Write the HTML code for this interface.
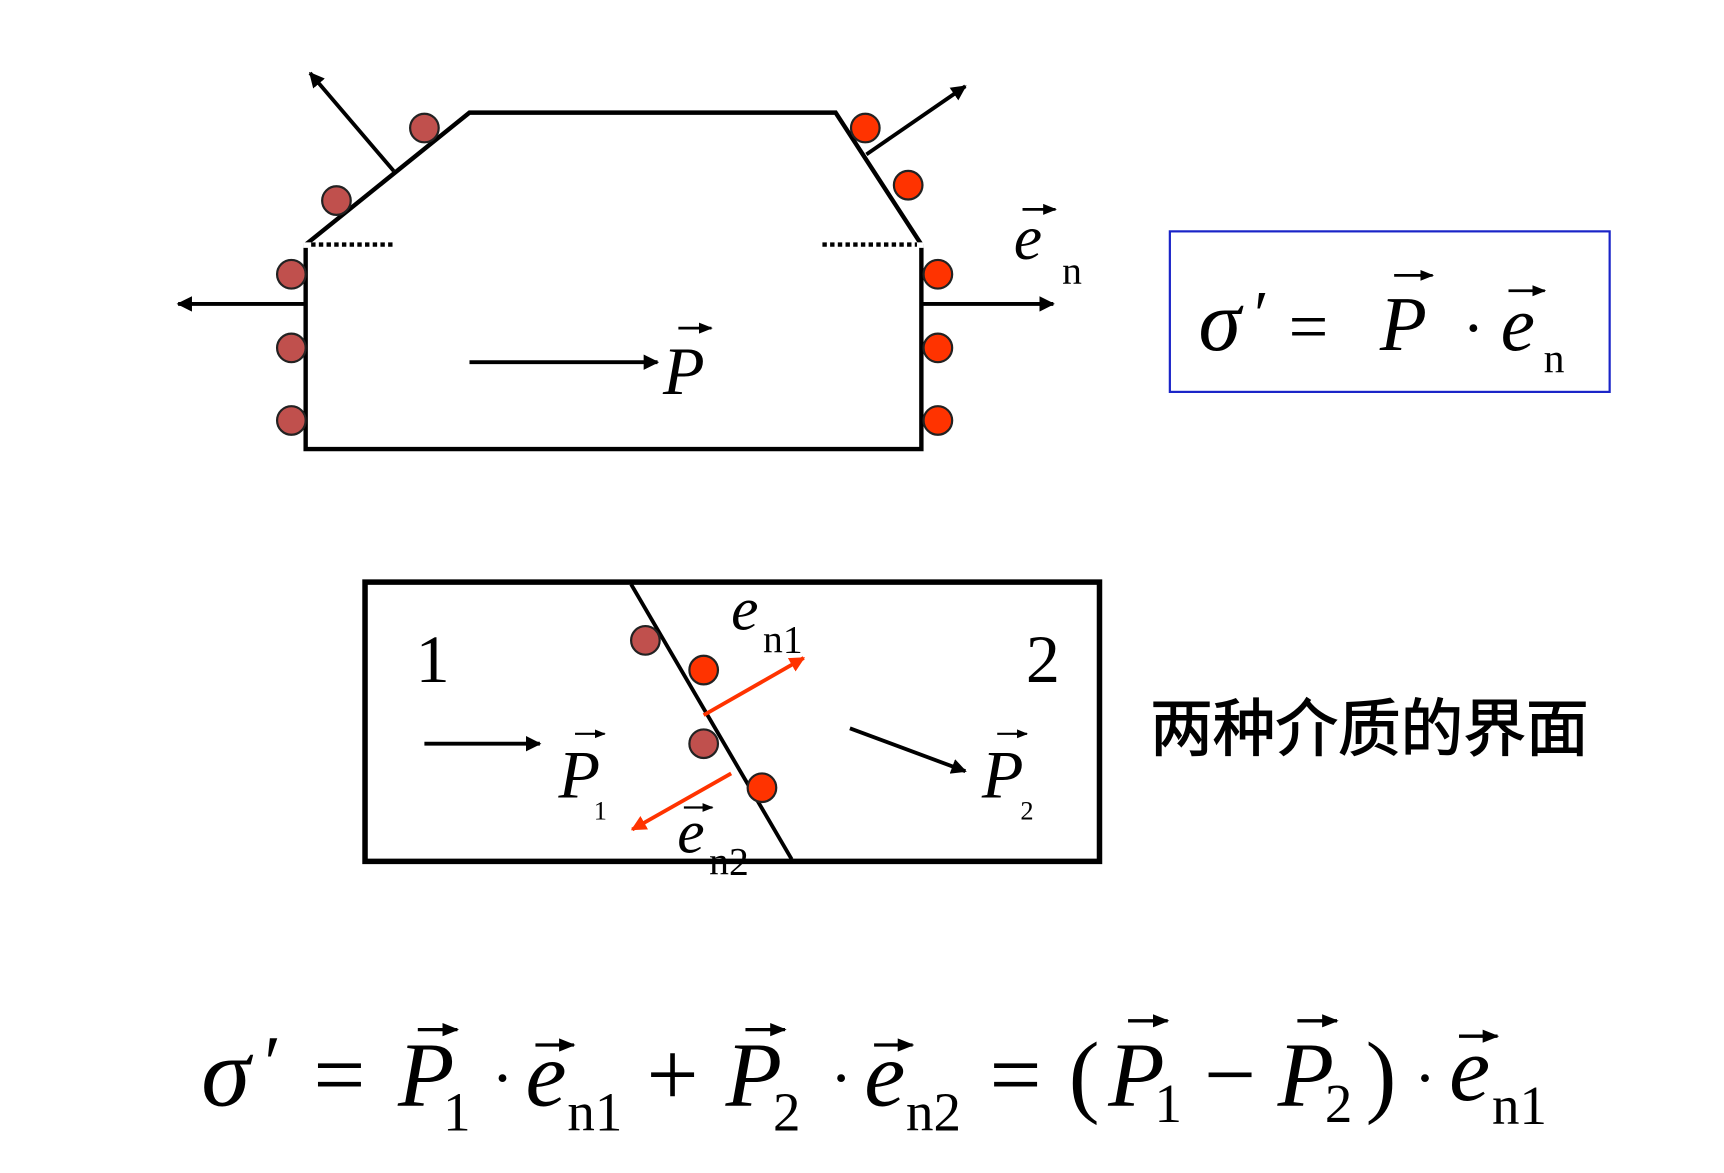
<!DOCTYPE html>
<html><head><meta charset="utf-8"><style>
html,body{margin:0;padding:0;background:#fff;}
svg{display:block;}
text{font-family:"Liberation Serif","Noto Serif CJK SC",serif;fill:#000;}
.i{font-style:italic;}
</style></head><body>
<svg width="1724" height="1173" viewBox="0 0 1568 1066" xmlns="http://www.w3.org/2000/svg">
<defs>
<marker id="ah" viewBox="0 0 10 10" refX="9" refY="5" markerWidth="4" markerHeight="4" orient="auto" markerUnits="strokeWidth"><path d="M0,0L10,5L0,10z" fill="#000"/></marker>
<marker id="ahr" viewBox="0 0 10 10" refX="9" refY="5" markerWidth="4" markerHeight="4" orient="auto" markerUnits="strokeWidth"><path d="M0,0L10,5L0,10z" fill="#ff3300"/></marker>
<marker id="sv" viewBox="0 0 10 10" refX="9" refY="5" markerWidth="5" markerHeight="5" orient="auto" markerUnits="strokeWidth"><path d="M0,1L10,5L0,9z" fill="#000"/></marker>
</defs>
<rect width="1568" height="1066" fill="#fff"/>
<polygon points="278,222 427,102 760,102 838,222 838,408 278,408" fill="none" stroke="#000" stroke-width="4"/>
<rect x="276" y="220" width="564" height="5" fill="#fff"/>
<line x1="283" y1="222" x2="357" y2="222" stroke="#000" stroke-width="4" stroke-dasharray="4,3"/>
<line x1="748" y1="222" x2="834" y2="222" stroke="#000" stroke-width="4" stroke-dasharray="4,3"/>
<line x1="358" y1="155" x2="282" y2="66" stroke="#000" stroke-width="3.5" marker-end="url(#ah)"/>
<line x1="278" y1="276" x2="162" y2="276" stroke="#000" stroke-width="3.5" marker-end="url(#ah)"/>
<line x1="838" y1="276" x2="958" y2="276" stroke="#000" stroke-width="3.5" marker-end="url(#ah)"/>
<line x1="788" y1="140" x2="878" y2="78" stroke="#000" stroke-width="3.5" marker-end="url(#ah)"/>
<g stroke="#222" stroke-width="2" fill="#c0504d">
<circle cx="386" cy="116" r="13"/><circle cx="306" cy="182" r="13"/><circle cx="265" cy="249" r="13"/><circle cx="265" cy="316" r="13"/><circle cx="265" cy="382" r="13"/>
</g>
<g stroke="#222" stroke-width="2" fill="#ff3300">
<circle cx="787" cy="116" r="13"/><circle cx="826" cy="168" r="13"/><circle cx="853" cy="249" r="13"/><circle cx="853" cy="316" r="13"/><circle cx="853" cy="382" r="13"/>
</g>
<line x1="427" y1="329" x2="598" y2="329" stroke="#000" stroke-width="3.5" marker-end="url(#ah)"/>
<text x="603" y="358" class="i" font-size="62">P</text>
<line x1="617" y1="298" x2="647" y2="298" stroke="#000" stroke-width="2.5" marker-end="url(#sv)"/>
<text x="922" y="235" class="i" font-size="58">e</text>
<line x1="930" y1="190" x2="960" y2="190" stroke="#000" stroke-width="2.5" marker-end="url(#sv)"/>
<text x="966" y="258" font-size="36">n</text>
<rect x="1064" y="210" width="400" height="146" fill="none" stroke="#1a24c8" stroke-width="2"/>
<text x="1090" y="318" class="i" font-size="78">σ</text>
<text x="1137" y="305" font-size="60" class="i">′</text>
<text x="1172" y="318" font-size="64">=</text>
<text x="1255" y="318" class="i" font-size="70">P</text>
<line x1="1268" y1="250" x2="1303" y2="250" stroke="#000" stroke-width="2.5" marker-end="url(#sv)"/>
<text x="1330" y="318" font-size="60">·</text>
<text x="1365" y="318" class="i" font-size="70">e</text>
<line x1="1372" y1="264" x2="1405" y2="264" stroke="#000" stroke-width="2.5" marker-end="url(#sv)"/>
<text x="1404" y="338" font-size="38">n</text>
<rect x="332" y="529" width="668" height="254" fill="none" stroke="#000" stroke-width="5"/>
<line x1="574" y1="531" x2="720" y2="781" stroke="#000" stroke-width="3.5"/>
<g stroke="#222" stroke-width="2" fill="#c0504d"><circle cx="587" cy="582" r="13"/><circle cx="640" cy="676" r="13"/></g>
<g stroke="#222" stroke-width="2" fill="#ff3300"><circle cx="640" cy="609" r="13"/><circle cx="693" cy="716" r="13"/></g>
<line x1="640" y1="650" x2="731" y2="598" stroke="#ff3300" stroke-width="3.5" marker-end="url(#ahr)"/>
<line x1="665" y1="703" x2="575" y2="754" stroke="#ff3300" stroke-width="3.5" marker-end="url(#ahr)"/>
<text x="378" y="620" font-size="62">1</text>
<text x="933" y="620" font-size="62">2</text>
<line x1="386" y1="676" x2="491" y2="676" stroke="#000" stroke-width="3.5" marker-end="url(#ah)"/>
<text x="508" y="725" class="i" font-size="62">P</text>
<line x1="523" y1="667" x2="550" y2="667" stroke="#000" stroke-width="2" marker-end="url(#sv)"/>
<text x="540" y="745" font-size="24">1</text>
<line x1="773" y1="662" x2="878" y2="701" stroke="#000" stroke-width="3.5" marker-end="url(#ah)"/>
<text x="893" y="725" class="i" font-size="62">P</text>
<line x1="907" y1="667" x2="934" y2="667" stroke="#000" stroke-width="2" marker-end="url(#sv)"/>
<text x="928" y="745" font-size="24">2</text>
<text x="665" y="572" class="i" font-size="56">e</text>
<text x="694" y="593" font-size="36">n1</text>
<text x="616" y="775" class="i" font-size="56">e</text>
<line x1="622" y1="734" x2="648" y2="734" stroke="#000" stroke-width="2" marker-end="url(#sv)"/>
<text x="645" y="795" font-size="36">n2</text>
<text x="1046" y="682" font-size="57" stroke="#000" stroke-width="1" style="font-family:'Noto Sans CJK SC','WenQuanYi Zen Hei',sans-serif">两种介质的界面</text>
<g font-size="84">
<text x="183" y="1005" class="i" font-size="90">σ</text>
<text x="236" y="990" class="i" font-size="70">′</text>
<text x="285" y="1005">=</text>
<text x="362" y="1005" class="i">P</text>
<line x1="380" y1="936" x2="416" y2="936" stroke="#000" stroke-width="3" marker-end="url(#sv)"/>
<text x="403" y="1028" font-size="50">1</text>
<text x="447" y="1000" font-size="60">·</text>
<text x="478" y="1005" class="i">e</text>
<line x1="487" y1="950" x2="522" y2="950" stroke="#000" stroke-width="3" marker-end="url(#sv)"/>
<text x="516" y="1028" font-size="50">n1</text>
<text x="588" y="1005">+</text>
<text x="660" y="1005" class="i">P</text>
<line x1="678" y1="936" x2="714" y2="936" stroke="#000" stroke-width="3" marker-end="url(#sv)"/>
<text x="703" y="1028" font-size="50">2</text>
<text x="755" y="1000" font-size="60">·</text>
<text x="786" y="1005" class="i">e</text>
<line x1="795" y1="950" x2="830" y2="950" stroke="#000" stroke-width="3" marker-end="url(#sv)"/>
<text x="824" y="1028" font-size="50">n2</text>
<text x="900" y="1005">=</text>
<text x="972" y="1005">(</text>
<text x="1008" y="1005" class="i">P</text>
<line x1="1026" y1="928" x2="1062" y2="928" stroke="#000" stroke-width="3" marker-end="url(#sv)"/>
<text x="1050" y="1020" font-size="50">1</text>
<text x="1095" y="1005">−</text>
<text x="1162" y="1005" class="i">P</text>
<line x1="1180" y1="928" x2="1216" y2="928" stroke="#000" stroke-width="3" marker-end="url(#sv)"/>
<text x="1205" y="1020" font-size="50">2</text>
<text x="1242" y="1005">)</text>
<text x="1286" y="1000" font-size="60">·</text>
<text x="1318" y="1000" class="i">e</text>
<line x1="1327" y1="942" x2="1362" y2="942" stroke="#000" stroke-width="3" marker-end="url(#sv)"/>
<text x="1357" y="1022" font-size="50">n1</text>
</g>
</svg>
</body></html>
